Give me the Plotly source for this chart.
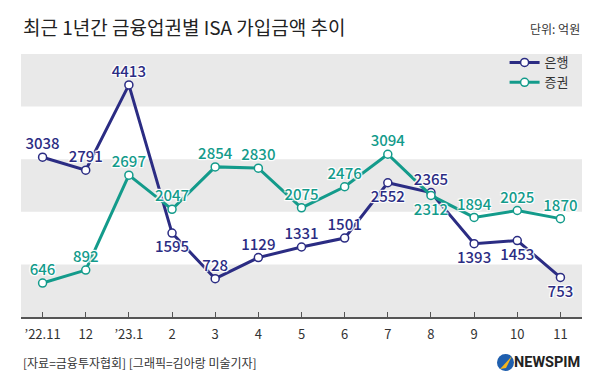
import plotly.graph_objects as go

months = ["’22.11", "12", "’23.1", "2", "3", "4", "5", "6", "7", "8", "9", "10", "11"]
bank = [3038, 2791, 4413, 1595, 728, 1129, 1331, 1501, 2552, 2365, 1393, 1453, 753]
sec = [646, 892, 2697, 2047, 2854, 2830, 2075, 2476, 3094, 2312, 1894, 2025, 1870]
bank_pos = ["top center", "top center", "top center", "bottom center", "top center", "top center",
            "top center", "top center", "bottom center", "top center", "bottom center",
            "bottom center", "bottom center"]
sec_pos = ["top center"] * 9 + ["bottom center"] + ["top center"] * 3
bands = [(0, 1000), (2000, 3000), (4000, 5000)]

NAVY = "#2b2c83"
TEAL = "#139b8b"
FONT = "Noto Sans CJK KR"
HALO = "1px 1px 1px #fff, -1px -1px 1px #fff, 1px -1px 1px #fff, -1px 1px 1px #fff, 0 0 2px #fff"

fig = go.Figure()
for name, vals, col in [("은행", bank, NAVY), ("증권", sec, TEAL)]:
    fig.add_trace(go.Scatter(
        x=months, y=vals, name=name, mode="lines+markers",
        line=dict(color=col, width=3),
        marker=dict(size=8, color="white", line=dict(color=col, width=1.5)),
        hoverinfo="skip",
    ))
for vals, col, pos in [(bank, NAVY, bank_pos), (sec, TEAL, sec_pos)]:
    fig.add_trace(go.Scatter(
        x=months, y=vals, mode="markers+text", text=[str(v) for v in vals],
        textposition=pos, showlegend=False, hoverinfo="skip",
        marker=dict(size=[5 if p.startswith("top") else 11 for p in pos],
                    color="rgba(0,0,0,0)", line=dict(width=0)),
        textfont=dict(family=FONT, size=15, color=col, shadow=HALO, weight=500),
    ))

shapes = []
for lo, hi in bands:
    shapes.append(dict(type="rect", xref="paper", yref="y", x0=0, x1=1, y0=lo, y1=hi,
                       fillcolor="#e9e9e9", line=dict(width=0), layer="below"))
# logo circle
shapes.append(dict(type="circle", xref="paper", yref="paper",
                   x0=(497 - 21) / 561, x1=(514 - 21) / 561,
                   y0=(317 - 371) / 263, y1=(317 - 354) / 263,
                   fillcolor="#1f5fae", line=dict(width=0)))
shapes.append(dict(type="path", xref="paper", yref="paper",
                   path="M {0},{1} L {2},{3} L {4},{5} Z".format(
                       (500 - 21) / 561, (317 - 369) / 263,
                       (512 - 21) / 561, (317 - 356) / 263,
                       (506 - 21) / 561, (317 - 368) / 263),
                   fillcolor="#f5b51b", line=dict(width=0)))

annotations = [
    dict(text="최근 1년간 금융업권별 ISA 가입금액 추이", xref="paper", yref="paper",
         x=0, y=(317 - 27) / 263, xanchor="left", yanchor="middle", showarrow=False,
         font=dict(family=FONT, size=19, color="#222")),
    dict(text="단위: 억원", xref="paper", yref="paper",
         x=1, y=(317 - 28) / 263, xanchor="right", yanchor="middle", showarrow=False,
         font=dict(family=FONT, size=12, color="#333")),
    dict(text="[자료=금융투자협회] [그래픽=김아랑 미술기자]", xref="paper", yref="paper",
         x=0, y=(317 - 362) / 263, xanchor="left", yanchor="middle", showarrow=False,
         font=dict(family=FONT, size=12, color="#333")),
    dict(text="<b>NEWSPIM</b>", xref="paper", yref="paper",
         x=1, y=(317 - 362) / 263, xanchor="right", yanchor="middle", showarrow=False,
         font=dict(family="Roboto", size=14.5, color="#222")),
]

fig.update_layout(
    width=600, height=390,
    margin=dict(l=21, r=18, t=54, b=73),
    paper_bgcolor="white", plot_bgcolor="white",
    font=dict(family=FONT, color="#333"),
    shapes=shapes, annotations=annotations,
    legend=dict(x=0.985, y=1.025, xanchor="right", yanchor="top",
                bgcolor="rgba(0,0,0,0)", font=dict(family=FONT, size=13, color="#333"),
                tracegroupgap=0),
    xaxis=dict(type="category", range=[-0.5, 12.5], showgrid=False, showline=True,
               linecolor="#555", linewidth=1.5, ticks="inside", ticklen=5, tickcolor="#555",
               tickfont=dict(family=FONT, size=13, color="#333"), ticklabelstandoff=5,
               fixedrange=True),
    yaxis=dict(range=[0, 5000], showgrid=False, showticklabels=False, zeroline=False,
               showline=False, fixedrange=True),
    showlegend=True,
)

fig.write_html("out.html", config={"displayModeBar": False},
               post_script="document.body.style.margin='0';")
